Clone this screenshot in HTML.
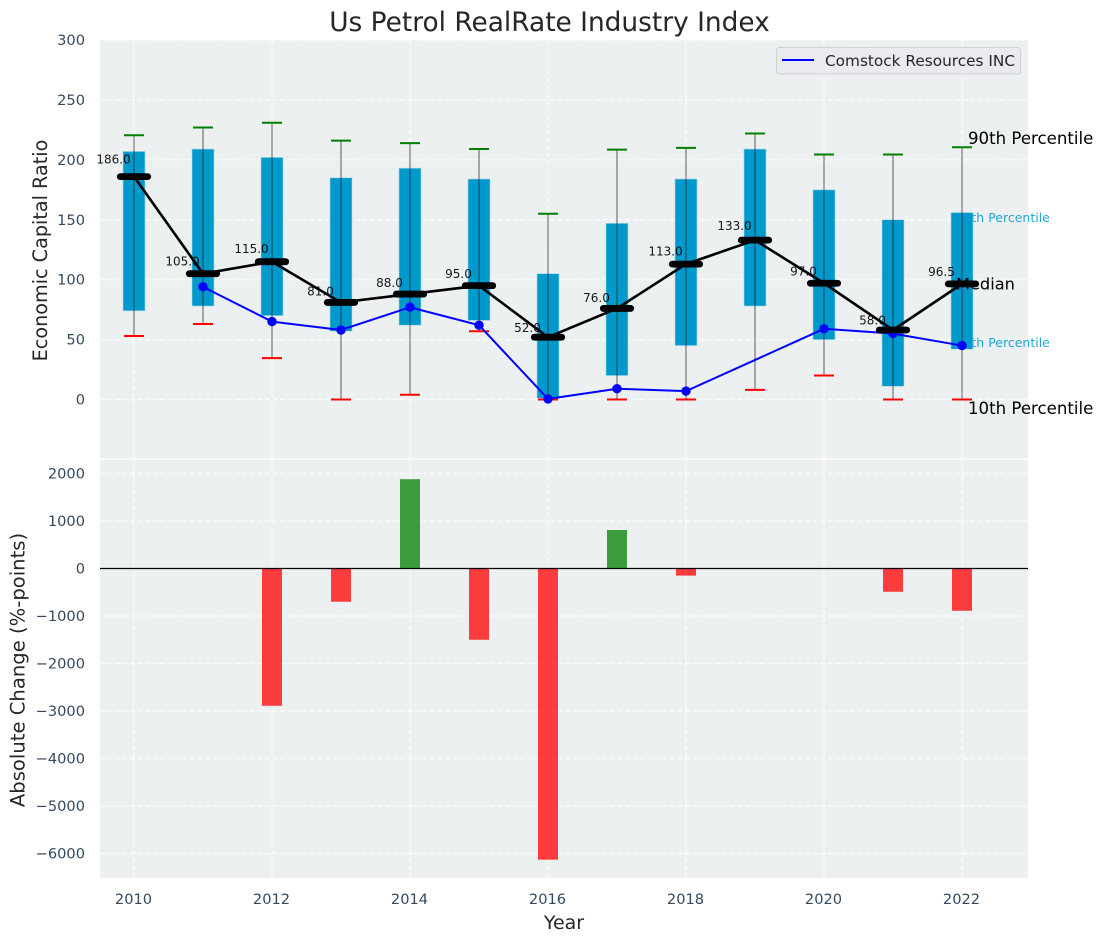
<!DOCTYPE html>
<html>
<head>
<meta charset="utf-8">
<title>Us Petrol RealRate Industry Index</title>
<style>
html,body{margin:0;padding:0;background:#fff;width:1103px;height:942px;overflow:hidden}
svg{display:block}
text{font-family:"DejaVu Sans","Liberation Sans",sans-serif}
</style>
</head>
<body>
<svg id="chart" width="1103" height="942" viewBox="0 0 1103 942" xmlns="http://www.w3.org/2000/svg"></svg>
<script>
const years = [2010,2011,2012,2013,2014,2015,2016,2017,2018,2019,2020,2021,2022];
const p90 = [220.5,227,231,216,214,209,155,208.5,210,222,204.5,204.5,210.5];
const p75 = [207,209,202,185,193,184,105,147,184,209,175,150,156];
const median = [186,105,115,81,88,95,52,76,113,133,97,58,96.5];
const p25 = [74,78,70,57,62,66,1,20,45,78,50,11,42];
const p10 = [53,63,34.5,0,4,57,0,0,0,8,20,0,0];
const company = [null,94,65,58,77,62,0.5,9,7,null,59,55,45];
const changes = [0,0,-2890,-700,1880,-1500,-6130,810,-150,0,0,-490,-890];
const xTicks = [2010,2012,2014,2016,2018,2020,2022];
const topTicks = [0,50,100,150,200,250,300];
const bottomTicks = [-6000,-5000,-4000,-3000,-2000,-1000,0,1000,2000];
const titleText = 'Us Petrol RealRate Industry Index';
const legendText = 'Comstock Resources INC';

const svg = document.getElementById('chart');
const NS = 'http://www.w3.org/2000/svg';
const xS = v => 134 + (v - 2010) * 69;
const yT = v => 399.5 - v * 1.1983;
const yB = v => 568.5 - v * 0.0475;
function mk(tag, attrs, parent){
  const e = document.createElementNS(NS, tag);
  for (const k in attrs) e.setAttribute(k, attrs[k]);
  (parent || svg).appendChild(e);
  return e;
}
function fmt(n){ return n < 0 ? '\u2212' + Math.abs(n) : String(n); }
const TICK = '#34495e';

/* panels */
let el = mk('rect',{x:100,y:40,width:928,height:418.5,fill:'#ecf0f1'});


el = mk('rect',{x:100,y:460,width:928,height:418,fill:'#ecf0f1'});



/* grid */
const gridStyle = {stroke:'#fff','stroke-width':1.2,'stroke-dasharray':'5 2.5',opacity:0.85};
xTicks.forEach(t => {
  let g = mk('line',Object.assign({x1:xS(t),x2:xS(t),y1:40,y2:458.5},gridStyle));
  
  
  g = mk('line',Object.assign({x1:xS(t),x2:xS(t),y1:460,y2:878},gridStyle));
  
  
});
topTicks.forEach(t => {
  const g = mk('line',Object.assign({x1:100,x2:1028,y1:yT(t),y2:yT(t)},gridStyle));
  
  
});
bottomTicks.forEach(t => {
  const g = mk('line',Object.assign({x1:100,x2:1028,y1:yB(t),y2:yB(t)},gridStyle));
  
  
});

/* tick labels */
topTicks.forEach(t => {
  const e = mk('text',{x:85,y:yT(t)+5,'text-anchor':'end','font-size':14.6,fill:TICK});
  e.textContent = fmt(t);
  
  
});
bottomTicks.forEach(t => {
  const e = mk('text',{x:85,y:yB(t)+5,'text-anchor':'end','font-size':14.6,fill:TICK});
  e.textContent = fmt(t);
  
  
});
xTicks.forEach(t => {
  const e = mk('text',{x:xS(t)-0.5,y:904,'text-anchor':'middle','font-size':14.6,fill:TICK});
  e.textContent = t;
  
  
});

/* percentile side labels sit below the boxes */
el = mk('text',{x:955.5,y:222,'font-size':12.5,fill:'#0099cc',opacity:0.85});
el.textContent = '75th Percentile';


el = mk('text',{x:955.5,y:347,'font-size':12.5,fill:'#0099cc',opacity:0.85});
el.textContent = '25th Percentile';



/* boxes */
years.forEach((y,i) => {
  const r = mk('rect',{x:xS(y)-11,y:yT(p75[i]),width:22,height:yT(p25[i])-yT(p75[i]),fill:'#0099cc',stroke:'#a9d9e8','stroke-width':0.6});
  
  
});
/* whiskers and caps */
years.forEach((y,i) => {
  const w = mk('line',{x1:xS(y),x2:xS(y),y1:yT(p90[i]),y2:yT(p10[i]),stroke:'#222','stroke-width':1.3,opacity:0.55});
  
  
  const c1 = mk('line',{x1:xS(y)-10,x2:xS(y)+10,y1:yT(p90[i]),y2:yT(p90[i]),stroke:'#008000','stroke-width':2});
  
  
  const c2 = mk('line',{x1:xS(y)-10,x2:xS(y)+10,y1:yT(p10[i]),y2:yT(p10[i]),stroke:'#ff0000','stroke-width':2});
  
  
});

/* Median side label sits under the median line */
el = mk('text',{x:956,y:289.5,'font-size':16.2,fill:'#000'});
el.textContent = 'Median';



/* company line */
const cPts = years.map((y,i) => company[i] === null ? null : xS(y)+','+yT(company[i])).filter(Boolean).join(' ');
el = mk('polyline',{points:cPts,fill:'none',stroke:'#0000ff','stroke-width':2});


years.forEach((y,i) => {
  if (company[i] === null) return;
  const c = mk('circle',{cx:xS(y),cy:yT(company[i]),r:4.7,fill:'#0000ff'});
  
  
});

/* median line */
el = mk('polyline',{points:years.map((y,i) => xS(y)+','+yT(median[i])).join(' '),fill:'none',stroke:'#000','stroke-width':2.6});


years.forEach((y,i) => {
  const m = mk('line',{x1:xS(y)-13.7,x2:xS(y)+13.7,y1:yT(median[i]),y2:yT(median[i]),stroke:'#000','stroke-width':6.8,'stroke-linecap':'round'});
  
  
  const t = mk('text',{x:xS(y)-20.5,y:yT(median[i]*1.05)-2,'text-anchor':'middle','font-size':12,fill:'#000',opacity:0.9});
  t.textContent = median[i].toFixed(1);
  
  
});

/* side labels */
el = mk('text',{x:968,y:144,'font-size':16.6,fill:'#000'});
el.textContent = '90th Percentile';


el = mk('text',{x:968,y:414,'font-size':16.6,fill:'#000'});
el.textContent = '10th Percentile';



/* change bars */
years.forEach((y,i) => {
  if (!changes[i]) return;
  const v = changes[i];
  const top = Math.min(yB(v), yB(0)), h = Math.abs(yB(v)-yB(0));
  const b = mk('rect',{x:xS(y)-10,y:top,width:20,height:h,fill:v>0?'#008000':'#ff0000',opacity:0.75});
  
  
});
el = mk('line',{x1:100,x2:1028,y1:yB(0),y2:yB(0),stroke:'#000','stroke-width':1.3});



/* legend */
el = mk('rect',{x:776.5,y:47.5,width:244,height:26.5,rx:3,fill:'#eaeaf2',stroke:'#cfcfd4','stroke-width':1,opacity:0.95});


el = mk('line',{x1:782,x2:814,y1:60,y2:60,stroke:'#0000ff','stroke-width':2});


el = mk('text',{x:825,y:66,'font-size':15.3,fill:'#262626'});
el.textContent = legendText;



/* titles */
el = mk('text',{x:549.5,y:31,'text-anchor':'middle','font-size':26.4,fill:'#262626'});
el.textContent = titleText;


el = mk('text',{x:564,y:929,'text-anchor':'middle','font-size':19,fill:'#262626'});
el.textContent = 'Year';


el = mk('text',{x:0,y:0,'text-anchor':'middle','font-size':19.2,fill:'#262626',transform:'translate(47,250.5) rotate(-90)'});
el.textContent = 'Economic Capital Ratio';


el = mk('text',{x:0,y:0,'text-anchor':'middle','font-size':19.6,fill:'#262626',transform:'translate(24.5,670) rotate(-90)'});
el.textContent = 'Absolute Change (%-points)';


</script>
</body>
</html>
